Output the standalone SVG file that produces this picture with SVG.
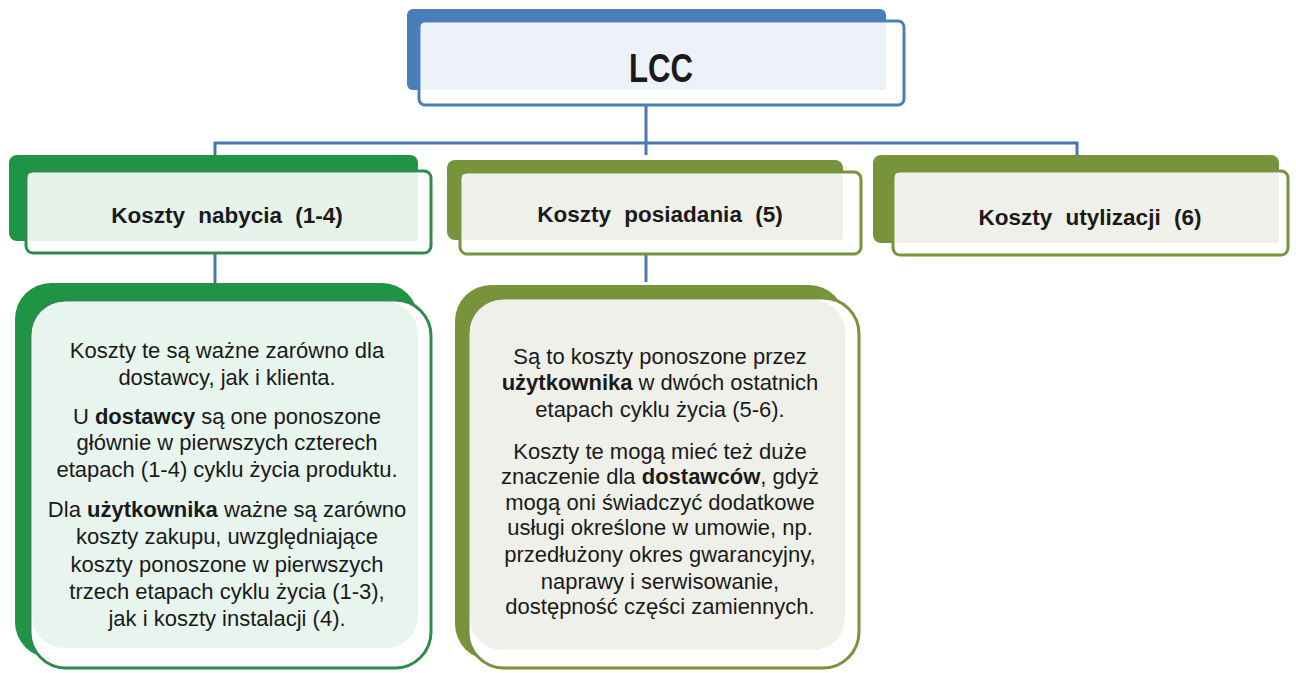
<svg xmlns="http://www.w3.org/2000/svg" width="1296" height="673" viewBox="0 0 1296 673">
<style>
.t{font-family:"Liberation Sans",Arial,sans-serif;fill:#1a1a1a;text-anchor:middle}
.h{font-size:22.5px;font-weight:bold;word-spacing:7px}
.p{font-size:22px}
.b{font-weight:bold}
.con{stroke:#4a76ad;stroke-width:3;fill:none}
</style>
<rect width="1296" height="673" fill="#ffffff"/>
<g id="connectors">
<line class="con" x1="646" y1="104" x2="646" y2="155"/>
<polyline class="con" points="215,157 215,143 1077,143 1077,157"/>
<line class="con" x1="215" y1="253" x2="215" y2="284"/>
<line class="con" x1="646" y1="255" x2="646" y2="282"/>
</g>
<g id="lcc">
<rect x="407" y="9" width="479" height="81" rx="6" fill="#4a7ebb"/>
<rect x="419" y="21" width="485" height="84" rx="6" fill="#ffffff" stroke="#4a7ebb" stroke-width="3"/>
<rect x="421" y="23" width="465" height="67" rx="3" fill="#edf2f9"/>
<text class="t b" x="661" y="82" font-size="40" textLength="64" lengthAdjust="spacingAndGlyphs">LCC</text>
</g>
<g id="nabycia">
<rect x="9" y="155" width="409" height="86" rx="8" fill="#1f9445"/>
<rect x="26" y="171" width="405" height="82" rx="7" fill="#ffffff" stroke="#2e8b4e" stroke-width="3"/>
<rect x="28" y="173" width="390" height="68" rx="3" fill="#e6f3eb"/>
<text class="t h" x="227" y="223">Koszty nabycia (1-4)</text>
</g>
<g id="posiadania">
<rect x="447" y="160" width="396" height="80" rx="8" fill="#77933c"/>
<rect x="460" y="172" width="401" height="82" rx="7" fill="#ffffff" stroke="#77933c" stroke-width="3"/>
<rect x="462" y="174" width="381" height="66" rx="3" fill="#f0f0ea"/>
<text class="t h" x="660" y="222">Koszty posiadania (5)</text>
</g>
<g id="utylizacji">
<rect x="873" y="155" width="406" height="88" rx="8" fill="#77933c"/>
<rect x="893" y="171" width="395" height="84" rx="7" fill="#ffffff" stroke="#77933c" stroke-width="3"/>
<rect x="895" y="173" width="384" height="70" rx="3" fill="#f0f0ea"/>
<text class="t h" x="1090" y="225">Koszty utylizacji (6)</text>
</g>
<g id="opis-nabycia">
<rect x="15" y="283" width="403" height="375" rx="36" fill="#1f9445"/>
<rect x="30" y="300" width="401" height="368" rx="36" fill="#ffffff" stroke="#2e8b4e" stroke-width="3"/>
<rect x="32" y="302" width="386" height="346" rx="32" fill="#e8f4ee"/>
<text class="t p" x="227" y="358">Koszty te są ważne zarówno dla</text>
<text class="t p" x="227" y="385">dostawcy, jak i klienta.</text>
<text class="t p" x="227" y="424">U <tspan class="b">dostawcy</tspan> są one ponoszone</text>
<text class="t p" x="227" y="450">głównie w pierwszych czterech</text>
<text class="t p" x="227" y="477">etapach (1-4) cyklu życia produktu.</text>
<text class="t p" x="227" y="517">Dla <tspan class="b">użytkownika</tspan> ważne są zarówno</text>
<text class="t p" x="227" y="544">koszty zakupu, uwzględniające</text>
<text class="t p" x="227" y="572">koszty ponoszone w pierwszych</text>
<text class="t p" x="227" y="599">trzech etapach cyklu życia (1-3),</text>
<text class="t p" x="227" y="626">jak i koszty instalacji (4).</text>
</g>
<g id="opis-posiadania">
<rect x="455" y="285" width="390" height="375" rx="36" fill="#77933c"/>
<rect x="468" y="298" width="391" height="370" rx="36" fill="#ffffff" stroke="#77933c" stroke-width="3"/>
<rect x="470" y="300" width="375" height="350" rx="32" fill="#f0f0ea"/>
<text class="t p" x="660" y="364">Są to koszty ponoszone przez</text>
<text class="t p" x="660" y="390"><tspan class="b">użytkownika</tspan> w dwóch ostatnich</text>
<text class="t p" x="660" y="417">etapach cyklu życia (5-6).</text>
<text class="t p" x="660" y="459">Koszty te mogą mieć też duże</text>
<text class="t p" x="660" y="484">znaczenie dla <tspan class="b">dostawców</tspan>, gdyż</text>
<text class="t p" x="660" y="510">mogą oni świadczyć dodatkowe</text>
<text class="t p" x="660" y="535">usługi określone w umowie, np.</text>
<text class="t p" x="660" y="562">przedłużony okres gwarancyjny,</text>
<text class="t p" x="660" y="589">naprawy i serwisowanie,</text>
<text class="t p" x="660" y="614">dostępność części zamiennych.</text>
</g>
</svg>
